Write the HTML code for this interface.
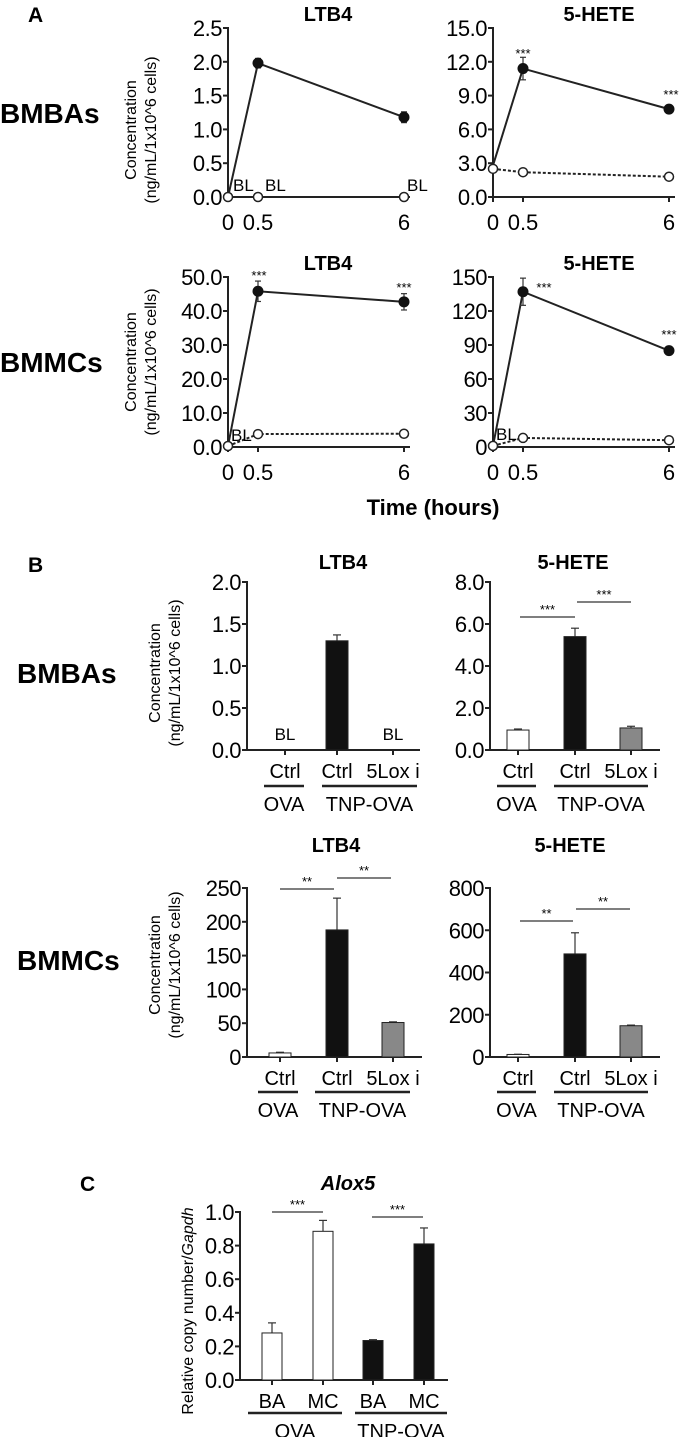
<!DOCTYPE html>
<html><head><meta charset="utf-8"><style>
html,body{margin:0;padding:0;background:#fff;}
svg{display:block;font-family:"Liberation Sans",Arial,sans-serif;}
</style></head><body>
<svg id="fig" width="681" height="1437" viewBox="0 0 681 1437" xmlns="http://www.w3.org/2000/svg">
<text x="28" y="22" font-size="21" font-weight="bold">A</text>
<text x="28" y="572" font-size="21" font-weight="bold">B</text>
<text x="80" y="1191" font-size="21" font-weight="bold">C</text>
<text x="0" y="123" font-size="28" font-weight="bold">BMBAs</text>
<text x="0" y="372" font-size="28" font-weight="bold">BMMCs</text>
<text x="17" y="683" font-size="28" font-weight="bold">BMBAs</text>
<text x="17" y="970" font-size="28" font-weight="bold">BMMCs</text>
<text x="433" y="515" font-size="22" font-weight="bold" text-anchor="middle">Time (hours)</text>
<g transform="translate(142,130) rotate(-90)"><text x="0" y="-6" font-size="16" text-anchor="middle">Concentration</text><text x="0" y="14" font-size="16" text-anchor="middle">(ng/mL/1x10^6 cells)</text></g>
<g transform="translate(142,362) rotate(-90)"><text x="0" y="-6" font-size="16" text-anchor="middle">Concentration</text><text x="0" y="14" font-size="16" text-anchor="middle">(ng/mL/1x10^6 cells)</text></g>
<g transform="translate(166,673) rotate(-90)"><text x="0" y="-6" font-size="16" text-anchor="middle">Concentration</text><text x="0" y="14" font-size="16" text-anchor="middle">(ng/mL/1x10^6 cells)</text></g>
<g transform="translate(166,965) rotate(-90)"><text x="0" y="-6" font-size="16" text-anchor="middle">Concentration</text><text x="0" y="14" font-size="16" text-anchor="middle">(ng/mL/1x10^6 cells)</text></g>
<g transform="translate(193,1311) rotate(-90)"><text x="0" y="0" font-size="16" text-anchor="middle">Relative copy number/<tspan font-style="italic">Gapdh</tspan></text></g>
</svg>
<script>
// ---------- Panel A data ----------
const timesH = [0, 0.5, 6];
const timeTickLabels = ['0', '0.5', '6'];
const aLtb4BaFilled = [0, 1.98, 1.18];
const aLtb4BaErr = [0, 0.07, 0.08];
const aLtb4BaOpen = [0, 0, 0];
const aLtb4BaTicks = ['0.0', '0.5', '1.0', '1.5', '2.0', '2.5'];
const aHeteBaFilled = [2.8, 11.4, 7.8];
const aHeteBaErr = [0, 1.0, 0.15];
const aHeteBaOpen = [2.5, 2.2, 1.8];
const aHeteBaTicks = ['0.0', '3.0', '6.0', '9.0', '12.0', '15.0'];
const aLtb4McFilled = [0.3, 45.8, 42.7];
const aLtb4McErr = [0, 3.0, 2.4];
const aLtb4McOpen = [0.3, 3.8, 3.9];
const aLtb4McTicks = ['0.0', '10.0', '20.0', '30.0', '40.0', '50.0'];
const aHeteMcFilled = [1, 137, 85];
const aHeteMcErr = [0, 12, 2];
const aHeteMcOpen = [1, 8, 6];
const aHeteMcTicks = ['0', '30', '60', '90', '120', '150'];
// ---------- Panel B data ----------
const bCategories = ['Ctrl', 'Ctrl', '5Lox i'];
const bGroups = ['OVA', 'TNP-OVA'];
const bLtb4Ba = [0, 1.3, 0];
const bLtb4BaErr = [0, 0.07, 0];
const bLtb4BaTicks = ['0.0', '0.5', '1.0', '1.5', '2.0'];
const bHeteBa = [0.95, 5.4, 1.05];
const bHeteBaErr = [0.05, 0.4, 0.08];
const bHeteBaTicks = ['0.0', '2.0', '4.0', '6.0', '8.0'];
const bLtb4Mc = [6, 188, 51];
const bLtb4McErr = [1, 47, 1];
const bLtb4McTicks = ['0', '50', '100', '150', '200', '250'];
const bHeteMc = [12, 488, 148];
const bHeteMcErr = [1, 100, 3];
const bHeteMcTicks = ['0', '200', '400', '600', '800'];
// ---------- Panel C data ----------
const cCategories = ['BA', 'MC', 'BA', 'MC'];
const cGroups = ['OVA', 'TNP-OVA'];
const cAlox5 = [0.28, 0.885, 0.235, 0.81];
const cAlox5Err = [0.06, 0.065, 0.005, 0.095];
const cTicks = ['0.0', '0.2', '0.4', '0.6', '0.8', '1.0'];

const NS = 'http://www.w3.org/2000/svg';
const svg = document.getElementById('fig');
function mk(parent, tag, attrs, name) {
  const el = document.createElementNS(NS, tag);
  for (const k in attrs) el.setAttribute(k, attrs[k]);
  
  
  parent.appendChild(el);
  return el;
}
function txt(parent, x, y, s, size, name, extra) {
  const t = mk(parent, 'text', Object.assign({x: x, y: y, 'font-size': size}, extra || {}), name);
  t.textContent = s;
  return t;
}
function yAxis(g, x0, y0, yTop, ticks, name) {
  mk(g, 'line', {x1: x0, y1: y0 + 1, x2: x0, y2: yTop - 1, stroke: '#222', 'stroke-width': 2}, name + '-y-axis');
  const n = ticks.length - 1;
  ticks.forEach((lab, i) => {
    const y = y0 - (y0 - yTop) * i / n;
    mk(g, 'line', {x1: x0 - 5, y1: y, x2: x0, y2: y, stroke: '#222', 'stroke-width': 2}, name + '-y-tick');
    txt(g, x0 - 6, y + 8, lab, 22, name + '-y-tick-label', {'text-anchor': 'end', 'letter-spacing': '-0.5'});
  });
}
function lineChart(cfg) {
  const g = mk(svg, 'g', {}, cfg.name);
  const ymax = cfg.ymax;
  const xs = t => t <= 0.5 ? cfg.x0 + t * 60 : cfg.x0 + 30 + (t - 0.5) * (146 / 5.5);
  const ys = v => cfg.y0 - (cfg.y0 - cfg.yTop) * v / ymax;
  txt(g, cfg.titleX, cfg.yTop - 7, cfg.title, 20, cfg.name + '-title', {'text-anchor': 'middle', 'font-weight': 'bold'});
  mk(g, 'line', {x1: cfg.x0 - 1, y1: cfg.y0, x2: cfg.x0 + 182, y2: cfg.y0, stroke: '#222', 'stroke-width': 2}, cfg.name + '-x-axis');
  timesH.forEach((t, i) => {
    mk(g, 'line', {x1: xs(t), y1: cfg.y0, x2: xs(t), y2: cfg.y0 + 5, stroke: '#222', 'stroke-width': 2}, cfg.name + '-x-tick');
    txt(g, xs(t), cfg.y0 + 33, timeTickLabels[i], 22, cfg.name + '-x-tick-label', {'text-anchor': 'middle'});
  });
  yAxis(g, cfg.x0, cfg.y0, cfg.yTop, cfg.ticks, cfg.name);
  const openPts = timesH.map((t, i) => xs(t) + ',' + ys(cfg.open[i])).join(' ');
  mk(g, 'polyline', {points: openPts, fill: 'none', stroke: '#222', 'stroke-width': 2, 'stroke-dasharray': '3,2'}, cfg.name + '-control-line');
  const fPts = timesH.map((t, i) => xs(t) + ',' + ys(cfg.filled[i])).join(' ');
  mk(g, 'polyline', {points: fPts, fill: 'none', stroke: '#222', 'stroke-width': 2}, cfg.name + '-stimulated-line');
  timesH.forEach((t, i) => {
    if (cfg.err[i] > 0) {
      const x = xs(t), y1 = ys(cfg.filled[i] - cfg.err[i]), y2 = ys(cfg.filled[i] + cfg.err[i]);
      mk(g, 'line', {x1: x, y1: y1, x2: x, y2: y2, stroke: '#333', 'stroke-width': 1.2}, cfg.name + '-error-bar');
      mk(g, 'line', {x1: x - 3, y1: y2, x2: x + 3, y2: y2, stroke: '#333', 'stroke-width': 1.2}, cfg.name + '-error-cap');
      mk(g, 'line', {x1: x - 3, y1: y1, x2: x + 3, y2: y1, stroke: '#333', 'stroke-width': 1.2}, cfg.name + '-error-cap');
    }
  });
  timesH.forEach((t, i) => {
    mk(g, 'circle', {cx: xs(t), cy: ys(cfg.open[i]), r: 4.5, fill: '#fff', stroke: '#222', 'stroke-width': 1.5}, cfg.name + '-control-point');
  });
  timesH.forEach((t, i) => {
    if (i === 0 && cfg.filled[0] <= cfg.open[0] + ymax * 0.02) return;
    mk(g, 'circle', {cx: xs(t), cy: ys(cfg.filled[i]), r: 5.5, fill: '#111'}, cfg.name + '-stimulated-point');
  });
  (cfg.stars || []).forEach(s => txt(g, s[0], s[1], '***', 13, cfg.name + '-significance', {'text-anchor': 'middle'}));
  (cfg.bls || []).forEach(s => txt(g, s[0], s[1], 'BL', 17, cfg.name + '-bl-label'));
}
lineChart({name: 'a-ltb4-bmbas', x0: 228, y0: 197, yTop: 28, ymax: 2.5, ticks: aLtb4BaTicks, title: 'LTB4', titleX: 328,
  filled: aLtb4BaFilled, err: aLtb4BaErr, open: aLtb4BaOpen, bls: [[233, 191], [265, 191], [407, 191]]});
lineChart({name: 'a-5hete-bmbas', x0: 493, y0: 197, yTop: 28, ymax: 15, ticks: aHeteBaTicks, title: '5-HETE', titleX: 599,
  filled: aHeteBaFilled, err: aHeteBaErr, open: aHeteBaOpen, stars: [[523, 58], [671, 99]]});
lineChart({name: 'a-ltb4-bmmcs', x0: 228, y0: 447, yTop: 277, ymax: 50, ticks: aLtb4McTicks, title: 'LTB4', titleX: 328,
  filled: aLtb4McFilled, err: aLtb4McErr, open: aLtb4McOpen, stars: [[259, 280], [404, 292]], bls: [[231, 441]]});
lineChart({name: 'a-5hete-bmmcs', x0: 493, y0: 447, yTop: 277, ymax: 150, ticks: aHeteMcTicks, title: '5-HETE', titleX: 599,
  filled: aHeteMcFilled, err: aHeteMcErr, open: aHeteMcOpen, stars: [[544, 292], [669, 339]], bls: [[496, 440]]});

function barChart(cfg) {
  const g = mk(svg, 'g', {}, cfg.name);
  const ys = v => cfg.y0 - (cfg.y0 - cfg.yTop) * v / cfg.ymax;
  if (cfg.title) txt(g, cfg.titleX, cfg.titleY, cfg.title, 20, cfg.name + '-title', {'text-anchor': 'middle', 'font-weight': 'bold', 'font-style': cfg.titleStyle || 'normal'});
  mk(g, 'line', {x1: cfg.x0 - 1, y1: cfg.y0, x2: cfg.xEnd, y2: cfg.y0, stroke: '#222', 'stroke-width': 2}, cfg.name + '-x-axis');
  yAxis(g, cfg.x0, cfg.y0, cfg.yTop, cfg.ticks, cfg.name);
  cfg.values.forEach((v, i) => {
    const x = cfg.xs[i];
    if (cfg.bl && cfg.bl[i]) {
      txt(g, x, cfg.y0 - 10, 'BL', 17, cfg.name + '-bl-label', {'text-anchor': 'middle'});
    } else {
      const top = ys(v), et = ys(v + cfg.err[i]);
      mk(g, 'line', {x1: x, y1: top, x2: x, y2: et, stroke: '#333', 'stroke-width': 1.2}, cfg.name + '-error-bar');
      mk(g, 'line', {x1: x - 4, y1: et, x2: x + 4, y2: et, stroke: '#333', 'stroke-width': 1.2}, cfg.name + '-error-cap');
      mk(g, 'rect', {x: x - cfg.bw / 2, y: top, width: cfg.bw, height: Math.max(cfg.y0 - top, 1), fill: cfg.fills[i], stroke: '#222', 'stroke-width': 1}, cfg.name + '-bar-' + i);
    }
    mk(g, 'line', {x1: x, y1: cfg.y0, x2: x, y2: cfg.y0 + 5, stroke: '#222', 'stroke-width': 2}, cfg.name + '-x-tick');
    txt(g, x, cfg.catY, cfg.cats[i], 20, cfg.name + '-category-label', {'text-anchor': 'middle'});
  });
  cfg.groupLines.forEach((gl, j) => {
    mk(g, 'line', {x1: gl[0], y1: cfg.groupY, x2: gl[1], y2: cfg.groupY, stroke: '#222', 'stroke-width': 2.5}, cfg.name + '-group-line');
    txt(g, (gl[0] + gl[1]) / 2, cfg.groupY + 25, cfg.groups[j], 20, cfg.name + '-group-label', {'text-anchor': 'middle'});
  });
  (cfg.sig || []).forEach(s => {
    mk(g, 'line', {x1: s[0], y1: s[2], x2: s[1], y2: s[2], stroke: '#333', 'stroke-width': 1.2}, cfg.name + '-significance-line');
    txt(g, (s[0] + s[1]) / 2, s[2] - 3, s[3], 13, cfg.name + '-significance', {'text-anchor': 'middle'});
  });
}
const bFills = ['#fff', '#111', '#888'];
barChart({name: 'b-ltb4-bmbas', x0: 247, xEnd: 420, y0: 750, yTop: 582, ymax: 2.0, ticks: bLtb4BaTicks, title: 'LTB4', titleX: 343, titleY: 569,
  values: bLtb4Ba, err: bLtb4BaErr, xs: [285, 337, 393], bw: 22, fills: bFills, bl: [true, false, true],
  cats: bCategories, catY: 778, groups: bGroups, groupLines: [[264, 304], [322, 417]], groupY: 786});
barChart({name: 'b-5hete-bmbas', x0: 490, xEnd: 660, y0: 750, yTop: 582, ymax: 8.0, ticks: bHeteBaTicks, title: '5-HETE', titleX: 573, titleY: 569,
  values: bHeteBa, err: bHeteBaErr, xs: [518, 575, 631], bw: 22, fills: bFills,
  cats: bCategories, catY: 778, groups: bGroups, groupLines: [[497, 536], [554, 648]], groupY: 786,
  sig: [[520, 575, 617, '***'], [577, 631, 602, '***']]});
barChart({name: 'b-ltb4-bmmcs', x0: 247, xEnd: 422, y0: 1057, yTop: 888, ymax: 250, ticks: bLtb4McTicks, title: 'LTB4', titleX: 336, titleY: 852,
  values: bLtb4Mc, err: bLtb4McErr, xs: [280, 337, 393], bw: 22, fills: bFills,
  cats: bCategories, catY: 1085, groups: bGroups, groupLines: [[258, 298], [315, 410]], groupY: 1092,
  sig: [[280, 334, 889, '**'], [337, 391, 878, '**']]});
barChart({name: 'b-5hete-bmmcs', x0: 490, xEnd: 660, y0: 1057, yTop: 888, ymax: 800, ticks: bHeteMcTicks, title: '5-HETE', titleX: 570, titleY: 852,
  values: bHeteMc, err: bHeteMcErr, xs: [518, 575, 631], bw: 22, fills: bFills,
  cats: bCategories, catY: 1085, groups: bGroups, groupLines: [[497, 536], [554, 648]], groupY: 1092,
  sig: [[520, 573, 921, '**'], [576, 630, 909, '**']]});
barChart({name: 'c-alox5', x0: 240, xEnd: 448, y0: 1380, yTop: 1212, ymax: 1.0, ticks: cTicks, title: 'Alox5', titleX: 348, titleY: 1190, titleStyle: 'italic',
  values: cAlox5, err: cAlox5Err, xs: [272, 323, 373, 424], bw: 20, fills: ['#fff', '#fff', '#111', '#111'],
  cats: cCategories, catY: 1408, groups: cGroups, groupLines: [[248, 342], [355, 447]], groupY: 1413,
  sig: [[272, 323, 1212, '***'], [372, 423, 1217, '***']]});
</script>
</body></html>
